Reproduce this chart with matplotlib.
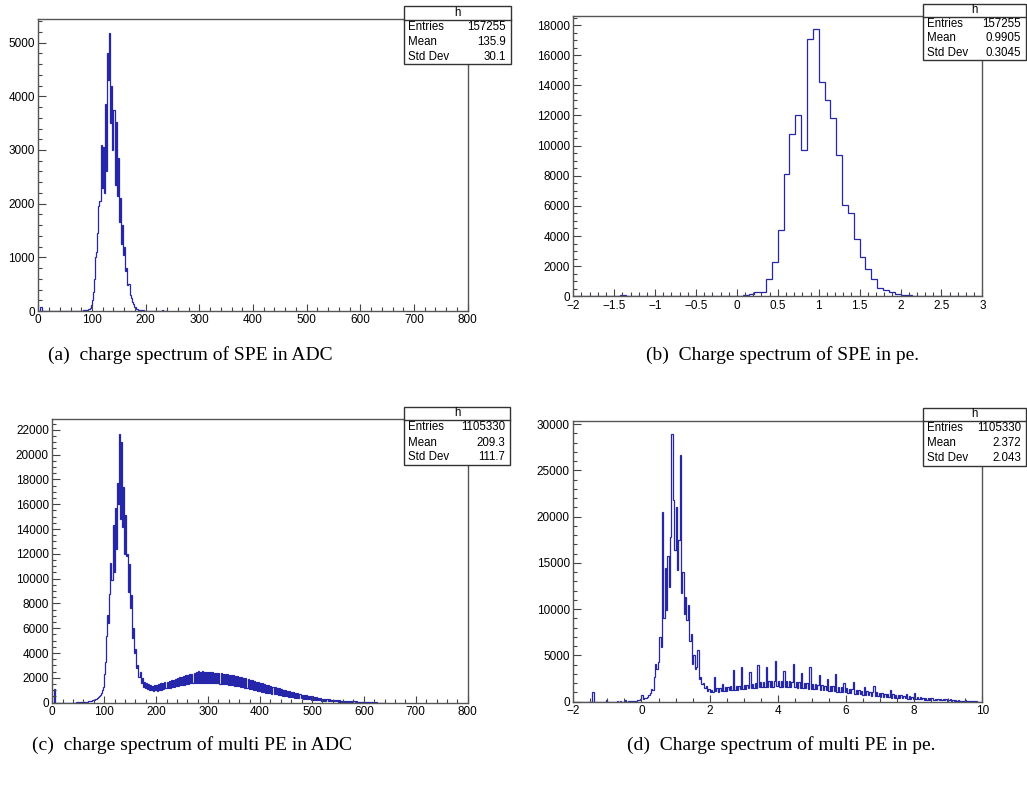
import numpy as np
import matplotlib
matplotlib.use('Agg')
import matplotlib.pyplot as plt
from matplotlib.patches import Rectangle
from matplotlib.lines import Line2D
from matplotlib.ticker import MultipleLocator, FuncFormatter

W, H = 1027, 787

# ---------------- data ----------------
# (a) SPE charge in ADC, 2-ADC bins starting at 0
a_start, a_width = 0.0, 2.0
a_values = [
    0, 0, 80, 0, 0, 0, 0, 0, 0, 0, 0, 0, 0, 0, 0, 0, 0, 0, 0, 0,
    0, 0, 0, 0, 0, 0, 0, 0, 0, 0, 0, 0, 0, 0, 0, 0, 0, 0, 0, 0,
    0, 5, 10, 10, 15, 20, 30, 40, 60, 120,
    200, 350, 600, 1000, 1100, 1450, 1950, 2050, 3100, 2300,
    3050, 2200, 3850, 2600, 4800, 4300, 5180, 3500, 4200, 3000,
    3750, 2350, 3520, 2150, 2850, 1650, 2100, 1250, 1600, 1050,
    1200, 750, 800, 480, 500, 300, 250, 160, 130, 80,
    70, 40, 40, 25, 20, 15, 12, 10, 8, 6,
    5, 4, 3, 3, 2, 2, 1, 0, 0, 0,
    0, 0, 0, 0, 0, 20, 0, 0, 0, 0,
]

# (b) SPE charge in pe, 70 bins on [-2, 3]
b_start, b_width = -2.0, 5.0 / 70
b_values = [
    0, 0, 0, 0, 0, 0, 0, 0, 60, 0,
    0, 0, 0, 0, 0, 0, 0, 0, 0, 0,
    0, 0, 0, 0, 0, 0, 0, 0, 30, 60,
    150, 265, 310, 1130, 2300, 4400, 8100, 10800, 12000, 9730,
    17100, 17740, 14250, 13050, 11800, 9380, 6040, 5510, 3830, 2630,
    1790, 1130, 530, 440, 290, 180, 90, 60, 50, 30,
    40, 0, 0, 0, 0, 0, 0, 0, 0, 0,
]

# (c) multi-PE charge in ADC, 2-ADC bins starting at 0
c_start, c_width = 0.0, 2.0
c_values = [
    0, 0, 1100, 0, 0, 0, 0, 0, 0, 0, 0, 0, 0, 0, 0, 0, 0, 0, 0, 0,
    0, 0, 0, 20, 30, 30, 40, 40, 50, 50, 60, 60, 70, 80, 100, 110, 130, 150, 180, 210,
    220, 270, 320, 380, 450, 540, 640, 800, 1000, 1300,
    2300, 3300, 5400, 7100, 6400, 8800, 11300, 9900, 14300, 10500,
    15700, 12400, 17700, 16000, 21700, 14800, 21000, 14200, 17400, 12000,
    15100, 11800, 12000, 8900, 11200, 7600, 8700, 5200, 6000, 4000,
    4300, 2800, 3000, 2100, 2500, 1600, 2000, 1300, 1700, 1200,
    1600, 1100, 1500, 1050, 1400, 1000, 1350, 950, 1400, 1000,
    1450, 980, 1500, 1020, 1550, 1060, 1600, 1100, 1650, 1150,
    1700, 1180, 1750, 1220, 1800, 1260, 1850, 1300, 1900, 1330,
    2000, 1370, 2050, 1400, 2100, 1430, 2150, 1460, 2200, 1490,
    2250, 1520, 2300, 1550, 2350, 1570, 2400, 1590, 2450, 1600,
    2550, 1600, 2500, 1620, 2550, 1600, 2500, 1610, 2500, 1600,
    2480, 1590, 2460, 1580, 2450, 1570, 2420, 1560, 2400, 1550,
    2400, 1540, 2380, 1520, 2350, 1500, 2320, 1480, 2300, 1450,
    2260, 1420, 2230, 1400, 2200, 1370, 2160, 1340, 2120, 1310,
    2100, 1280, 2060, 1240, 2010, 1200, 1960, 1160, 1900, 1120,
    1850, 1080, 1800, 1040, 1750, 1000, 1700, 960, 1650, 920,
    1600, 880, 1550, 850, 1500, 820, 1450, 790, 1400, 760,
    1350, 730, 1300, 700, 1250, 670, 1200, 640, 1150, 610,
    1100, 580, 1050, 550, 1000, 520, 960, 490, 920, 460,
    880, 430, 840, 400, 800, 380, 750, 360, 700, 340,
    650, 320, 620, 300, 590, 280, 560, 260, 520, 240,
    500, 230, 470, 210, 440, 200, 400, 180, 360, 170,
    330, 160, 310, 150, 290, 140, 270, 130, 250, 120,
    230, 110, 210, 100, 200, 90, 180, 85, 170, 80,
    160, 75, 150, 70, 140, 65, 130, 60, 120, 55,
    110, 50, 100, 45, 90, 40, 80, 35, 70, 30,
    60, 30, 55, 25, 50, 20, 45, 15, 40, 10,
    30, 5, 20, 0, 10, 0, 0, 0, 0, 0,
]

# (d) multi-PE charge in pe, 0.04-pe bins starting at -2
d_start, d_width = -2.0, 0.04
d_values = [
    0, 0, 0, 0, 0, 0, 0, 0, 0, 0, 0, 0, 0, 0, 1080,
    0, 0, 0, 0, 0, 0, 0, 0, 0, 180,
    0, 0, 0, 0, 0, 0, 0, 100, 0, 60, 0, 0, 0, 150, 0,
    40, 60, 40, 80, 60, 100, 120, 150, 200, 250,
    700, 300, 400, 450, 550, 700, 900, 1400, 1300, 2700,
    4100, 3500, 4300, 7000, 5900, 20500, 9000, 14400, 9900, 15800,
    12400, 17800, 28900, 21800, 16400, 21000, 14200, 17500, 26700, 11700,
    14000, 9500, 11300, 8800, 10400, 6600, 7300, 4100, 5000, 3500,
    3800, 5600, 2500, 2700, 1900, 2000, 1500, 1700, 1200, 1400,
    1100,
    1300, 1100, 2700, 1150, 1450, 1100, 1500, 1150, 1900, 1200, 1550, 1150, 1600,
    1250, 1650, 1300, 3400, 1300, 1700, 1300, 1750, 1350, 3700, 1400, 1800,
    1400, 1850, 1450, 3200, 1450, 1900, 1500, 2000, 1500, 4000, 1550, 2100, 1550,
    2150, 1600, 3700, 1600, 2200, 1550, 2250, 1600, 2200, 4400, 1650, 2250,
    1600, 2200, 1550, 3350, 1600, 2250, 1550, 2200, 1600, 2150, 4100, 1550, 2150,
    1500, 2100, 1500, 3050, 1450, 2050, 1450, 2000, 1400, 3800, 1400, 1950,
    1350, 1900, 1350, 1850, 2900, 1300, 1800, 1250, 1750, 1250, 2450, 1200, 1700,
    1150, 1650, 1150, 2950, 1100, 1600, 1050, 1550, 1000, 2000, 1000, 1450,
    950, 1400, 900, 1350, 2100, 850, 1300, 800, 1250, 800, 1200, 750, 1600,
    700, 1150, 700, 1100, 650, 1050, 1700, 600, 1000, 580, 950, 550,
    900, 520, 880, 500, 850, 480, 1260, 450, 780, 430, 750, 410, 720,
    400, 680, 380, 650, 360, 830, 340, 600, 320, 560, 300, 900,
    280, 500, 260, 470, 240, 440, 220, 420, 200, 380, 190, 360, 420,
    170, 320, 160, 300, 150, 280, 140, 260, 130, 240, 120, 220,
    300, 100, 180, 90, 160, 80, 140, 70, 120, 60, 100, 200,
    50, 80, 40, 70, 35, 60, 30, 40, 0, 0, 0, 0,
]

stat_names = ['Entries', 'Mean', 'Std Dev']
a_stats = ['157255', '135.9', '30.1']
b_stats = ['157255', '0.9905', '0.3045']
c_stats = ['1105330', '209.3', '111.7']
d_stats = ['1105330', '2.372', '2.043']

captions = [
    '(a)  charge spectrum of SPE in ADC',
    '(b)  Charge spectrum of SPE in pe.',
    '(c)  charge spectrum of multi PE in ADC',
    '(d)  Charge spectrum of multi PE in pe.',
]

# ---------------- style ----------------
LINE = '#2626aa'
FRAME = '#555555'
plt.rcParams['font.family'] = ['Liberation Sans', 'DejaVu Sans']

fig = plt.figure(figsize=(W / 100, H / 100), dpi=100)


def fmt(v, pos):
    s = '%g' % round(v, 6)
    return s.replace('-', '\u2212')


def make_panel(rect_px, xlim, ylim, xmaj, xmin, ymaj, ymin, values, start, width):
    l, t, r, b = rect_px
    ax = fig.add_axes([l / W, 1 - b / H, (r - l) / W, (b - t) / H])
    vals = np.asarray(values, dtype=float)
    edges = start + width * np.arange(len(vals) + 1)
    ax.stairs(vals, edges, color=LINE, lw=0.9, baseline=0)
    ax.set_xlim(*xlim)
    ax.set_ylim(*ylim)
    ax.xaxis.set_major_locator(MultipleLocator(xmaj))
    ax.xaxis.set_minor_locator(MultipleLocator(xmin))
    ax.yaxis.set_major_locator(MultipleLocator(ymaj))
    ax.yaxis.set_minor_locator(MultipleLocator(ymin))
    ax.xaxis.set_major_formatter(FuncFormatter(fmt))
    ax.yaxis.set_major_formatter(FuncFormatter(fmt))
    ax.tick_params(which='both', direction='in', top=False, right=False,
                   color='#444444', labelsize=8.5, labelcolor='black')
    ax.tick_params(which='major', length=5.4, width=0.8, pad=2.5)
    ax.tick_params(which='minor', length=2.9, width=0.8)
    for sp in ax.spines.values():
        sp.set_color(FRAME)
        sp.set_linewidth(1.0)
    return ax


make_panel((38.3, 19, 467.7, 311), (0, 800), (0, 5440), 100, 20, 1000, 200,
           a_values, a_start, a_width)
make_panel((573.3, 15.7, 982.3, 296.3), (-2, 3), (0, 18620), 0.5, 0.1, 2000, 500,
           b_values, b_start, b_width)
make_panel((52.3, 419.3, 467.7, 702.7), (0, 800), (0, 22850), 100, 20, 2000, 500,
           c_values, c_start, c_width)
make_panel((573.3, 420.7, 982.3, 701.7), (-2, 10), (0, 30370), 2, 0.5, 5000, 1000,
           d_values, d_start, d_width)


def fx(x):
    return x / W


def fy(y):
    return 1 - y / H


def stats_box(x0, x1, y0, yh, y1, values):
    fig.add_artist(Rectangle((fx(x0), fy(y1)), fx(x1) - fx(x0), fy(y0) - fy(y1),
                             transform=fig.transFigure, facecolor='white',
                             edgecolor='#333333', lw=1.0, zorder=5))
    fig.add_artist(Line2D([fx(x0), fx(x1)], [fy(yh), fy(yh)], transform=fig.transFigure,
                          color='#333333', lw=1.0, zorder=6))
    fig.text(fx((x0 + x1) / 2), fy((y0 + yh) / 2), 'h', ha='center', va='center',
             fontsize=8.3, zorder=7)
    row_h = (y1 - yh) / 3
    for i, (name, val) in enumerate(zip(stat_names, values)):
        yc = yh + row_h * (i + 0.5)
        fig.text(fx(x0 + 4), fy(yc), name, ha='left', va='center', fontsize=8.3, zorder=7)
        fig.text(fx(x1 - 5), fy(yc), val, ha='right', va='center', fontsize=8.3, zorder=7)


stats_box(404, 511, 6, 19.5, 64, a_stats)
stats_box(923, 1026, 4, 16.5, 60, b_stats)
stats_box(404, 510, 407, 420, 465, c_stats)
stats_box(923, 1026, 408, 420.5, 466, d_stats)

cap_pos = [(190, 355), (782, 355), (192, 745), (781, 745)]
for (cx, cy), txt in zip(cap_pos, captions):
    fig.text(fx(cx), fy(cy), txt, ha='center', va='center', fontsize=14,
             family=['Liberation Serif', 'DejaVu Serif'])

fig.savefig('out.png', dpi=100)
